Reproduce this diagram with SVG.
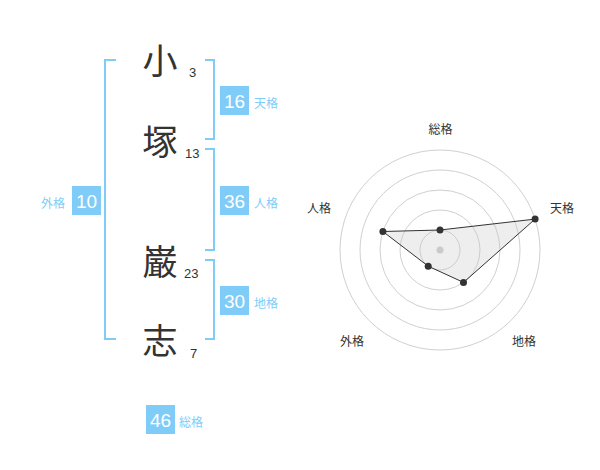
<svg xmlns="http://www.w3.org/2000/svg" width="600" height="470" viewBox="0 0 600 470">
<style>
.br{fill:none;stroke:#80ccf8;stroke-width:2}
.kj{font-family:"Noto Sans CJK JP",sans-serif;font-size:35px;fill:#333;text-anchor:middle}
.n{font-family:"Liberation Sans",Arial,sans-serif;font-size:13px;fill:#333}
.bx{fill:#80ccf8}
.bn{font-family:"Liberation Sans",Arial,sans-serif;font-size:19px;fill:#fff;text-anchor:middle}
.lb{font-family:"Noto Sans CJK JP",sans-serif;font-size:12px;fill:#80ccf8}
.rl{font-family:"Noto Sans CJK JP",sans-serif;font-size:12px;fill:#333;text-anchor:middle}
.ring{fill:none;stroke:#d0d0d0;stroke-width:1}
.pt{fill:#333}
</style>
<rect width="600" height="470" fill="#fff"/>
<g id="connectors">
<path class="br" d="M116,60 H105 V339 H116"/>
<path class="br" d="M205,60 H214 V139 H205"/>
<path class="br" d="M205,149 H214 V250 H205"/>
<path class="br" d="M205,260 H214 V339 H205"/>
</g>
<g id="char1"><text class="kj" x="160" y="74">小</text><text class="n" x="189" y="77">3</text></g>
<g id="char2"><text class="kj" x="160" y="155">塚</text><text class="n" x="185" y="158">13</text></g>
<g id="char3"><text class="kj" x="160" y="275">巌</text><text class="n" x="184" y="278">23</text></g>
<g id="char4"><text class="kj" x="160" y="354">志</text><text class="n" x="190" y="358">7</text></g>
<g id="tenkaku"><rect class="bx" x="220" y="86" width="29" height="29"/><text class="bn" x="234.5" y="107.5">16</text><text class="lb" x="254" y="108">天格</text></g>
<g id="jinkaku"><rect class="bx" x="220" y="186" width="29" height="29"/><text class="bn" x="234.5" y="207.5">36</text><text class="lb" x="254" y="208">人格</text></g>
<g id="chikaku"><rect class="bx" x="220" y="286" width="29" height="29"/><text class="bn" x="234.5" y="307.5">30</text><text class="lb" x="254" y="308">地格</text></g>
<g id="gaikaku"><rect class="bx" x="72" y="186" width="29" height="29"/><text class="bn" x="86.5" y="207.5">10</text><text class="lb" x="41" y="208">外格</text></g>
<g id="soukaku"><rect class="bx" x="146" y="405" width="29" height="29"/><text class="bn" x="160.5" y="426.5">46</text><text class="lb" x="179" y="427">総格</text></g>
<g id="radar">
<circle class="ring" cx="440" cy="250" r="20"/>
<circle class="ring" cx="440" cy="250" r="40"/>
<circle class="ring" cx="440" cy="250" r="60"/>
<circle class="ring" cx="440" cy="250" r="80"/>
<circle class="ring" cx="440" cy="250" r="100"/>
<circle cx="440" cy="250" r="3.5" fill="#ccc"/>
<polygon points="440,230 535.1,219.1 463.5,282.4 428.2,266.2 382.9,231.5" fill="rgba(200,200,200,0.3)" stroke="#333" stroke-width="1"/>
<circle class="pt" cx="440" cy="230" r="3.5"/>
<circle class="pt" cx="535.1" cy="219.1" r="3.5"/>
<circle class="pt" cx="463.5" cy="282.4" r="3.5"/>
<circle class="pt" cx="428.2" cy="266.2" r="3.5"/>
<circle class="pt" cx="382.9" cy="231.5" r="3.5"/>
<text class="rl" x="440.5" y="134">総格</text>
<text class="rl" x="562" y="213">天格</text>
<text class="rl" x="524" y="346">地格</text>
<text class="rl" x="352" y="346">外格</text>
<text class="rl" x="319" y="213">人格</text>
</g>
</svg>
